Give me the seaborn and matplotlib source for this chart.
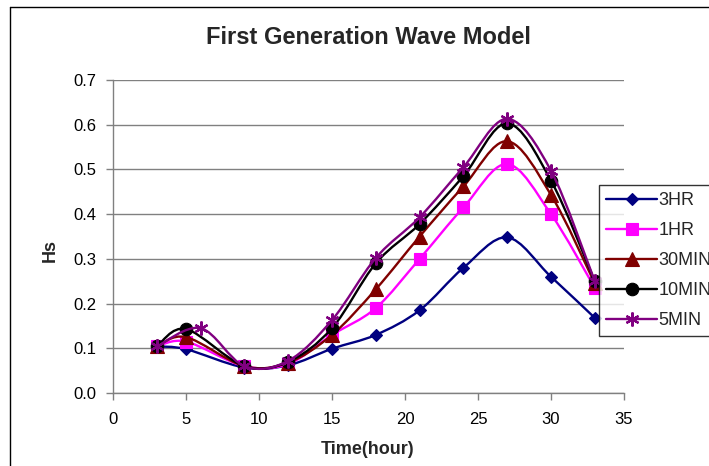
import numpy as np
import pandas as pd
import matplotlib
matplotlib.use("Agg")
import matplotlib.pyplot as plt
import seaborn as sns
from matplotlib.path import Path
from matplotlib.patches import PathPatch
from matplotlib.lines import Line2D

# ---------------- data ----------------
series_names = ["3HR", "1HR", "30MIN", "10MIN", "5MIN"]
time_main = [3, 5, 9, 12, 15, 18, 21, 24, 27, 30, 33]
time_5min = [3, 6, 9, 12, 15, 18, 21, 24, 27, 30, 33]
hs_3hr = [0.104, 0.098, 0.057, 0.062, 0.099, 0.130, 0.185, 0.280, 0.348, 0.260, 0.168]
hs_1hr = [0.104, 0.115, 0.060, 0.065, 0.130, 0.190, 0.300, 0.415, 0.512, 0.400, 0.235]
hs_30min = [0.104, 0.125, 0.060, 0.068, 0.130, 0.232, 0.350, 0.462, 0.563, 0.443, 0.245]
hs_10min = [0.104, 0.143, 0.060, 0.070, 0.145, 0.290, 0.378, 0.485, 0.603, 0.475, 0.250]
hs_5min = [0.104, 0.145, 0.060, 0.072, 0.163, 0.302, 0.393, 0.505, 0.613, 0.497, 0.250]
x_ticks = [0, 5, 10, 15, 20, 25, 30, 35]
y_ticks = [0.0, 0.1, 0.2, 0.3, 0.4, 0.5, 0.6, 0.7]
y_tick_labels = ["0.0", "0.1", "0.2", "0.3", "0.4", "0.5", "0.6", "0.7"]

series_x = [time_main, time_main, time_main, time_main, time_5min]
series_y = [hs_3hr, hs_1hr, hs_30min, hs_10min, hs_5min]

# ---------------- styles ----------------
colors = ["#000080", "#FF00FF", "#800000", "#000000", "#800080"]
markers = ["D", "s", "^", "o", (6, 2, 0)]
msizes = [6.6, 9, 9.5, 9, 10]

sns.set_theme(style="white")
plt.rcParams["font.family"] = ["Liberation Sans", "DejaVu Sans"]

W, H = 709, 466
fig = plt.figure(figsize=(W / 100, H / 100), dpi=100)
fig.patch.set_facecolor("white")
ax = fig.add_axes([113 / W, 1 - 393 / H, (624 - 113) / W, (393 - 80) / H])


def smooth_path(xs, ys, t=1 / 6):
    pts = np.column_stack([xs, ys]).astype(float)
    n = len(pts)
    verts = [pts[0]]
    codes = [Path.MOVETO]
    for i in range(n - 1):
        p0 = pts[i - 1] if i > 0 else pts[i]
        p1 = pts[i]
        p2 = pts[i + 1]
        p3 = pts[i + 2] if i + 2 < n else pts[i + 1]
        c1 = p1 + (p2 - p0) * t
        c2 = p2 - (p3 - p1) * t
        verts += [c1, c2, p2]
        codes += [Path.CURVE4] * 3
    return Path(verts, codes)


handles = []
for i, name in enumerate(series_names):
    df = pd.DataFrame({"Time": series_x[i], "Hs": series_y[i]})
    patch = PathPatch(smooth_path(df["Time"], df["Hs"]), facecolor="none",
                      edgecolor=colors[i], lw=1.7, zorder=2 + 2 * i)
    ax.add_patch(patch)
    unfilled = not isinstance(markers[i], str)
    sns.lineplot(data=df, x="Time", y="Hs", ax=ax, color=colors[i],
                 marker=markers[i], markersize=msizes[i], linestyle="none",
                 markerfacecolor=colors[i], markeredgecolor=colors[i],
                 markeredgewidth=1.6 if unfilled else 0.8,
                 zorder=3 + 2 * i, legend=False)
    handles.append(Line2D([0], [0], color=colors[i], lw=1.7, marker=markers[i],
                          markersize=msizes[i], markerfacecolor=colors[i],
                          markeredgecolor=colors[i],
                          markeredgewidth=1.6 if unfilled else 0.8))

ax.set_xlim(0, 35)
ax.set_ylim(0, 0.7)
ax.set_xticks(x_ticks)
ax.set_yticks(y_ticks)
ax.set_yticklabels(y_tick_labels)
ax.tick_params(axis="both", labelsize=12, labelcolor="#000000", length=5,
               direction="out", width=1, color="#808080")
ax.tick_params(axis="y", pad=7)
ax.tick_params(axis="x", pad=9)
ax.yaxis.grid(True, color="#808080", lw=1)
ax.xaxis.grid(False)
ax.set_axisbelow(True)
for s in ["top", "right"]:
    ax.spines[s].set_visible(False)
for s in ["left", "bottom"]:
    ax.spines[s].set_color("#808080")
    ax.spines[s].set_linewidth(1)
ax.set_xlabel("")
ax.set_ylabel("")
ax.xaxis.set_ticks_position("bottom")
ax.yaxis.set_ticks_position("left")

fig.text(368 / W, 1 - 37 / H, "First Generation Wave Model", ha="center",
         va="center", fontsize=17, fontweight="bold")
fig.text(368 / W, 1 - 450 / H, "Time(hour)", ha="center", va="center",
         fontsize=13, fontweight="bold")
fig.text(50 / W, 1 - 250 / H, "Hs", ha="center", va="center", rotation=90,
         fontsize=13, fontweight="bold")

leg = fig.legend(handles, series_names, loc="upper left",
                 bbox_to_anchor=(599 / W, 1 - 185 / H),
                 bbox_transform=fig.transFigure, fontsize=13,
                 frameon=True, fancybox=False, borderpad=0.4,
                 labelspacing=0.72, handlelength=2.8, handletextpad=0.1,
                 borderaxespad=0.0)
leg.get_frame().set_edgecolor("#000000")
leg.get_frame().set_linewidth(1)

# outer chart frame (left and top edges visible)
fig.add_artist(Line2D([10 / W, 10 / W], [0, 1 - 7 / H], transform=fig.transFigure,
                      color="#000000", lw=1))
fig.add_artist(Line2D([10 / W, 1], [1 - 7 / H, 1 - 7 / H], transform=fig.transFigure,
                      color="#000000", lw=1))

fig.savefig("out.png", dpi=100)
